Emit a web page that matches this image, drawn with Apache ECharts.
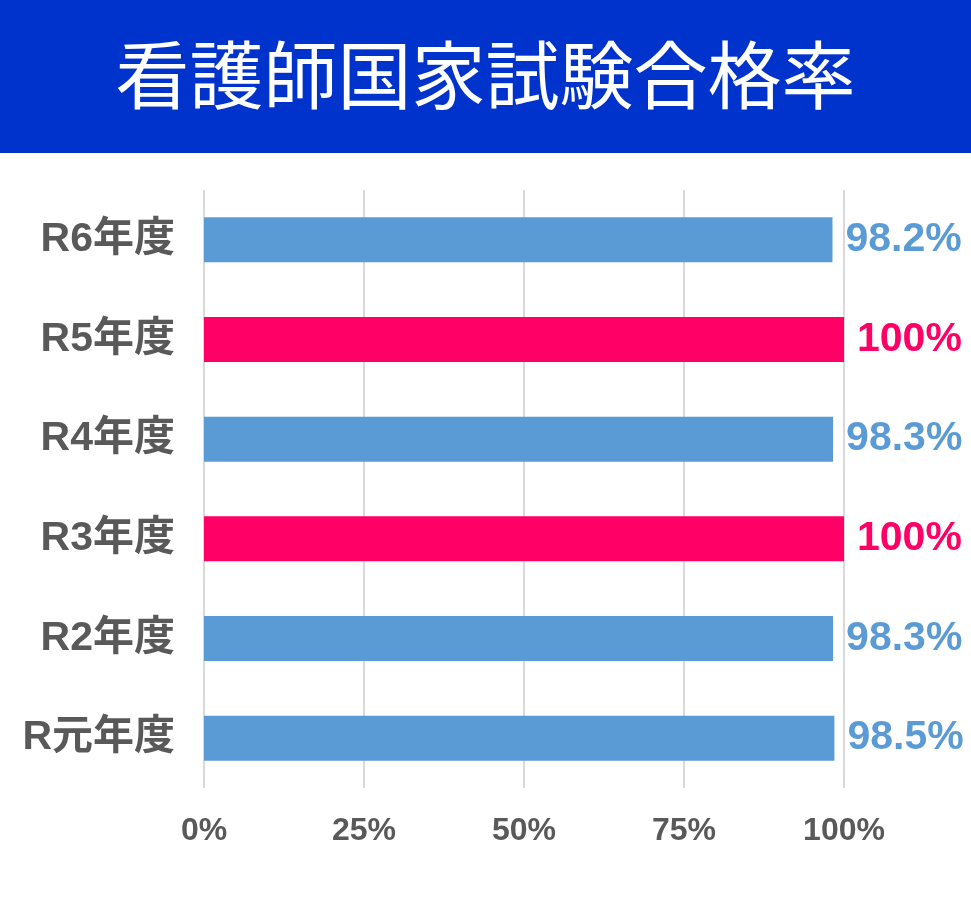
<!DOCTYPE html>
<html>
<head>
<meta charset="utf-8">
<script src="https://cdn.jsdelivr.net/npm/echarts@6/dist/echarts.min.js"></script>
<style>
  html, body { margin: 0; padding: 0; background: #fff; }
  #chart { width: 971px; height: 911px; }
</style>
</head>
<body>
<div id="chart"></div>
<script>
// categories top to bottom
const years = ['R6年度', 'R5年度', 'R4年度', 'R3年度', 'R2年度', 'R元年度']
const passRate = [98.2, 100, 98.3, 100, 98.3, 98.5]
const xTicks = [0, 25, 50, 75, 100]

const BLUE = '#5B9BD5'
const PINK = '#FF0066'
const FONT = '"Liberation Sans", "Noto Sans CJK JP", sans-serif'

const colorOf = v => (v >= 100 ? PINK : BLUE)

const chart = echarts.init(document.getElementById('chart'))

const option = {
    backgroundColor: '#fff',
    animation: false,
    graphic: [{
        type: 'rect',
        left: 0, top: 0,
        shape: { width: 971, height: 153 },
        style: { fill: '#0033CC' },
        z: 0
    }],
    title: {
        text: '看護師国家試験合格率',
        left: 'center',
        top: 33,
        textStyle: {
            color: '#fff',
            fontSize: 74,
            fontWeight: 'normal',
            fontFamily: '"Noto Sans CJK JP", sans-serif'
        },
        z: 10
    },
    grid: { left: 204, right: 127, top: 190, bottom: 123 },
    xAxis: {
        type: 'value',
        min: xTicks[0],
        max: xTicks[xTicks.length - 1],
        interval: xTicks[1] - xTicks[0],
        axisLine: { show: false },
        axisTick: { show: false },
        splitLine: { show: true, lineStyle: { color: '#d9d9d9', width: 2 } },
        axisLabel: {
            margin: 27,
            color: '#595959',
            fontSize: 32,
            fontWeight: 'bold',
            fontFamily: FONT,
            formatter: '{value}%'
        }
    },
    yAxis: {
        type: 'category',
        inverse: true,
        data: years,
        axisLine: { show: false },
        axisTick: { show: false },
        axisLabel: {
            margin: 29,
            color: '#595959',
            fontSize: 41,
            fontWeight: 'bold',
            fontFamily: FONT
        }
    },
    series: [{
        type: 'bar',
        barWidth: 45,
        data: passRate.map(v => ({
            value: v,
            itemStyle: { color: colorOf(v) },
            label: { color: colorOf(v) }
        })),
        label: {
            show: true,
            position: 'right',
            distance: 13,
            fontSize: 41,
            fontWeight: 'bold',
            fontFamily: FONT,
            formatter: p => p.value + '%'
        }
    }]
}

chart.setOption(option)
</script>
</body>
</html>
